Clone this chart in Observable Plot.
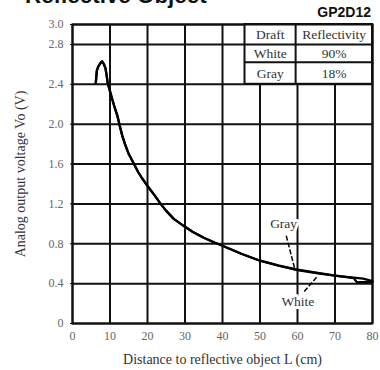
<!DOCTYPE html>
<html>
<head>
<meta charset="utf-8">
<script src="https://cdn.jsdelivr.net/npm/d3@7"></script>
<script src="https://cdn.jsdelivr.net/npm/@observablehq/plot@0.6"></script>
<style>
  html, body { margin: 0; padding: 0; background: #fff; }
  #wrap { position: relative; width: 380px; height: 370px; overflow: hidden; background: #fff; }
  #chart { position: absolute; left: 0; top: 0; }
  #title { position: absolute; left: 25px; top: -14.6px; font: bold 22.4px/22px "Liberation Sans", Arial, sans-serif; color: #111; white-space: nowrap; }
  #model { position: absolute; right: 9px; top: 5px; font: bold 14px/14px "Liberation Sans", Arial, sans-serif; color: #111; }
</style>
</head>
<body>
<div id="wrap">
  <div id="chart"></div>
  <div id="title">Reflective Object</div>
  <div id="model">GP2D12</div>
</div>
<script>
// ---- data ----
const xTicks = [0, 10, 20, 30, 40, 50, 60, 70, 80];
const yTicks = [0, 0.4, 0.8, 1.2, 1.6, 2.0, 2.4, 2.8, 3.0];

const grayX = [6.2, 6.5, 6.9, 7.4, 7.9, 8.4, 8.8, 9.1, 9.4, 10, 10.6, 11.3, 12, 12.5, 13.3, 14, 15, 16.4, 17.5, 18.5, 20, 22, 23.5, 25, 27, 30, 32, 35, 38, 40, 45, 50, 55, 60, 65, 70, 75, 77.5, 80];
const grayY = [2.41, 2.54, 2.58, 2.61, 2.63, 2.60, 2.56, 2.49, 2.41, 2.33, 2.25, 2.16, 2.08, 2.00, 1.88, 1.80, 1.70, 1.60, 1.52, 1.46, 1.38, 1.28, 1.20, 1.13, 1.05, 0.97, 0.92, 0.86, 0.81, 0.78, 0.70, 0.63, 0.58, 0.54, 0.51, 0.48, 0.46, 0.45, 0.425];

const whiteX = [6.2, 6.5, 6.9, 7.4, 7.9, 8.4, 8.8, 9.1, 9.4, 10, 10.6, 11.3, 12, 12.5, 13.3, 14, 15, 16.4, 17.5, 18.5, 20, 22, 23.5, 25, 27, 30, 32, 35, 38, 40, 45, 50, 55, 60, 65, 70, 75, 75.8, 78.2, 80];
const whiteY = [2.41, 2.54, 2.58, 2.61, 2.63, 2.60, 2.56, 2.49, 2.41, 2.33, 2.25, 2.16, 2.08, 2.00, 1.88, 1.80, 1.70, 1.60, 1.52, 1.46, 1.38, 1.28, 1.20, 1.13, 1.05, 0.97, 0.92, 0.86, 0.81, 0.78, 0.70, 0.63, 0.58, 0.535, 0.505, 0.48, 0.455, 0.415, 0.415, 0.42];

const seriesNames = ["Gray", "White"];
const seriesLabelX = [56.3, 60.1];
const seriesLabelY = [1.0, 0.22];
const leaderFromX = [57.0, 61.8];
const leaderFromY = [0.88, 0.32];
const leaderToX = [59.4, 65.2];
const leaderToY = [0.53, 0.47];

// reflectivity table (inset)
const tableHeader = ["Draft", "Reflectivity"];
const tableDraft = ["White", "Gray"];
const tableReflectivity = ["90%", "18%"];
const tableX = [46, 59.5, 80];          // left, column divider, right
const tableY = [2.4, 2.62, 2.8, 3.0];   // bottom, row dividers, top
const tableRowY = [2.9, 2.71, 2.51];

const xLabel = "Distance to reflective object L (cm)";
const yLabel = "Analog output voltage Vo (V)";

// ---- build tables for marks ----
const curve = [
  ...grayX.map((x, i) => ({series: "Gray", x, y: grayY[i]})),
  ...whiteX.map((x, i) => ({series: "White", x, y: whiteY[i]}))
];
const labels = seriesNames.map((s, i) => ({text: s, x: seriesLabelX[i], y: seriesLabelY[i]}));
const leaders = seriesNames.map((s, i) => ({x1: leaderFromX[i], y1: leaderFromY[i], x2: leaderToX[i], y2: leaderToY[i]}));
const colCenter = [(tableX[0] + tableX[1]) / 2, (tableX[1] + tableX[2]) / 2];
const cells = [
  {x: colCenter[0], y: tableRowY[0], t: tableHeader[0]},
  {x: colCenter[1], y: tableRowY[0], t: tableHeader[1]},
  ...tableDraft.map((d, i) => ({x: colCenter[0], y: tableRowY[i + 1], t: d})),
  ...tableReflectivity.map((d, i) => ({x: colCenter[1], y: tableRowY[i + 1], t: d}))
];

const ink = "#111";
const chart = Plot.plot({
  width: 380,
  height: 370,
  marginLeft: 72,
  marginRight: 8,
  marginTop: 24,
  marginBottom: 47,
  x: {domain: [0, 80]},
  y: {domain: [0, 3.0]},
  style: {fontFamily: "'Liberation Serif', 'Times New Roman', serif", fontSize: "12px", background: "#fff"},
  marks: [
    Plot.gridX(xTicks, {stroke: ink, strokeOpacity: 1, strokeWidth: 2}),
    Plot.gridY(yTicks, {stroke: ink, strokeOpacity: 1, strokeWidth: 2}),
    Plot.rect([0], {x1: tableX[0], x2: tableX[2], y1: tableY[0], y2: tableY[3], fill: "#fff", stroke: ink, strokeWidth: 2}),
    Plot.ruleX([tableX[1]], {y1: tableY[0], y2: tableY[3], stroke: ink, strokeWidth: 2}),
    Plot.ruleY([tableY[1], tableY[2]], {x1: tableX[0], x2: tableX[2], stroke: ink, strokeWidth: 2}),
    Plot.text(cells, {x: "x", y: "y", text: "t", fontSize: 13.5, fill: "#333"}),
    Plot.frame({stroke: ink, strokeWidth: 2}),
    Plot.line(curve, {x: "x", y: "y", z: "series", stroke: "#000", strokeWidth: 2.3}),
    Plot.link(leaders, {x1: "x1", y1: "y1", x2: "x2", y2: "y2", stroke: "#000", strokeWidth: 1.5, strokeDasharray: "5,2"}),
    Plot.text(labels, {x: "x", y: "y", text: "text", fontSize: 13.5, fill: "#333", stroke: "#fff", strokeWidth: 6}),
    Plot.axisX(xTicks, {tickSize: 0, tickPadding: 8, fill: "#666", fontSize: 12, label: null}),
    Plot.axisY(yTicks, {tickSize: 2, tickPadding: 7, fill: "#666", fontSize: 12, label: null,
      tickFormat: d => d === 0 ? "0" : d.toFixed(1)}),
    Plot.text([xLabel], {frameAnchor: "bottom", dy: 36, text: d => d, fontSize: 14, fill: "#333",
      textAnchor: "middle", lineAnchor: "middle"}),
    Plot.text([yLabel], {frameAnchor: "left", dx: -52, rotate: -90, text: d => d, fontSize: 14, fill: "#333",
      textAnchor: "middle", lineAnchor: "middle"})
  ]
});
document.getElementById("chart").appendChild(chart);
</script>
</body>
</html>
